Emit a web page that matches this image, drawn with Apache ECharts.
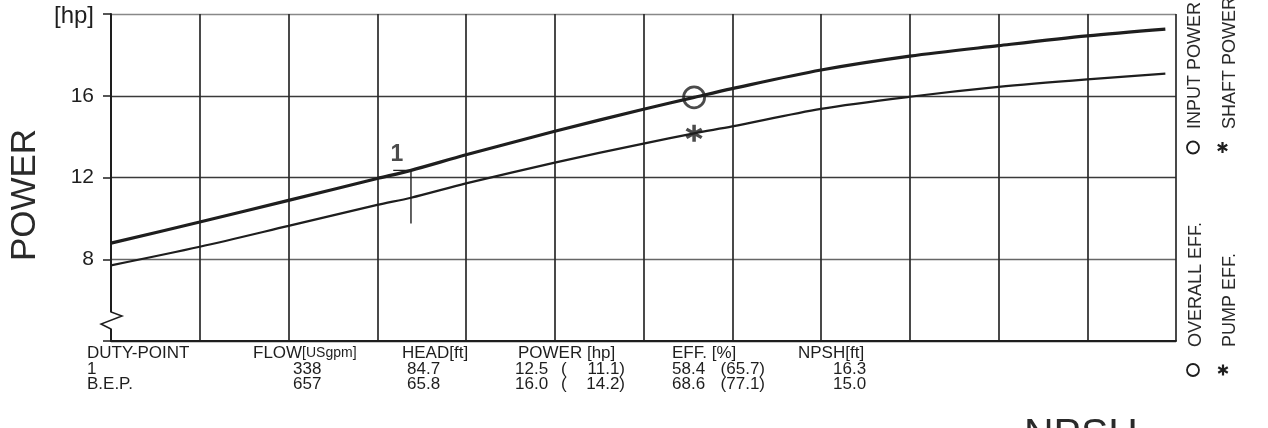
<!DOCTYPE html>
<html><head><meta charset="utf-8">
<script src="https://cdn.jsdelivr.net/npm/echarts@6/dist/echarts.min.js"></script>
<style>html,body{margin:0;padding:0;background:#fff}#c{width:1268px;height:428px}</style>
</head><body><div id="c"></div>
<script>
// ---- data ----
const flow        = [0, 100, 200, 300, 338, 400, 500, 600, 657, 700, 800, 900, 1000, 1100, 1188];
const inputPower  = [8.79, 9.82, 10.88, 11.95, 12.35, 13.11, 14.26, 15.34, 15.92, 16.35, 17.26, 17.94, 18.45, 18.93, 19.26];
const shaftPower  = [7.70, 8.61, 9.63, 10.66, 11.01, 11.71, 12.73, 13.66, 14.16, 14.50, 15.36, 15.95, 16.43, 16.80, 17.08];
const yTickValues = [4, 8, 12, 16, 20];
const yTickLabels = ['', '8', '12', '16', '[hp]'];
const dutyFlow = 338, dutyInput = 12.35, dutyDrop = 9.75, dutyTickStart = 318;
const dutyLabel = '1';
const bepFlow = 657, bepInput = 15.92, bepShaft = 14.16;
const tableHeaders = ['DUTY-POINT', 'FLOW', 'HEAD[ft]', 'POWER [hp]', 'EFF. [%]', 'NPSH[ft]'];
const flowUnit = '[USgpm]';
const rowNames = ['1', 'B.E.P.'];
const rowFlow  = ['338', '657'];
const rowHead  = ['84.7', '65.8'];
const rowPower = ['12.5', '16.0'];
const rowShaft = ['11.1)', '14.2)'];
const rowEff   = ['58.4', '68.6'];
const rowPumpEff = ['(65.7)', '(77.1)'];
const rowNpsh  = ['16.3', '15.0'];

const FONT = '"Liberation Sans", Arial, Helvetica, sans-serif';
const INK = '#1e1e1e';
const starPath = 'path://M-2,10L2,10L2,-10L-2,-10Z M7.66,6.73L9.66,3.27L-7.66,-6.73L-9.66,-3.27Z M-9.66,3.27L-7.66,6.73L9.66,-3.27L7.66,-6.73Z';

const chart = echarts.init(document.getElementById('c'), null, {renderer: 'canvas'});

function txt(x, y, text, size, align) {
  return {type: 'text', x: x, y: y, style: {text: text, font: size + 'px ' + FONT, fill: INK, textAlign: align || 'left', textVerticalAlign: 'middle'}};
}
function star(cx, cy, r) {
  const els = [];
  [90, 30, 150].forEach(a => {
    const t = a * Math.PI / 180;
    els.push({type: 'line', shape: {x1: cx - r * Math.cos(t), y1: cy - r * Math.sin(t), x2: cx + r * Math.cos(t), y2: cy + r * Math.sin(t)}, style: {stroke: INK, lineWidth: 2.2}});
  });
  return els;
}

const headerY = 353, r1Y = 369, r2Y = 384;
const rowYs = [r1Y, r2Y];
const TS = 17;
const graphics = [];
// y-axis title
graphics.push({type: 'text', x: 25.5, y: 195, rotation: Math.PI / 2, style: {text: 'POWER', font: '35px ' + FONT, fill: '#2a2a2a', textAlign: 'center', textVerticalAlign: 'middle'}});
// axis break mark
graphics.push({type: 'rect', shape: {x: 106, y: 312, width: 10, height: 17}, style: {fill: '#fff'}, z: 100});
graphics.push({type: 'polyline', shape: {points: [[111, 306], [111, 312], [122, 316], [101, 324], [111, 329], [111, 334]]}, style: {stroke: INK, lineWidth: 1.5, fill: null}, z: 101});
// table header
graphics.push(txt(87, headerY, tableHeaders[0], TS));
graphics.push({type: 'text', x: 253, y: headerY, style: {text: '{a|' + tableHeaders[1] + '}{b|' + flowUnit + '}', textVerticalAlign: 'middle', rich: {a: {font: TS + 'px ' + FONT, fill: INK}, b: {font: '14px ' + FONT, fill: INK}}}});
graphics.push(txt(402, headerY, tableHeaders[2], TS));
graphics.push(txt(518, headerY, tableHeaders[3], TS));
graphics.push(txt(672, headerY, tableHeaders[4], TS));
graphics.push(txt(798, headerY, tableHeaders[5], TS));
rowYs.forEach((y, i) => {
  graphics.push(txt(87, y, rowNames[i], TS));
  graphics.push(txt(293, y, rowFlow[i], TS));
  graphics.push(txt(407, y, rowHead[i], TS));
  graphics.push(txt(515, y, rowPower[i], TS));
  graphics.push(txt(561, y, '(', TS));
  graphics.push(txt(625, y, rowShaft[i], TS, 'right'));
  graphics.push(txt(672, y, rowEff[i], TS));
  graphics.push(txt(765, y, rowPumpEff[i], TS, 'right'));
  graphics.push(txt(833, y, rowNpsh[i], TS));
});
// right legends
function vtxt(x, y, text) {
  return {type: 'text', x: x, y: y, rotation: Math.PI / 2, style: {text: text, font: '18px ' + FONT, fill: '#2a2a2a', textAlign: 'left', textVerticalAlign: 'middle'}};
}
graphics.push(vtxt(1195, 129, 'INPUT POWER'));
graphics.push(vtxt(1230, 129, 'SHAFT POWER'));
graphics.push(vtxt(1196, 347, 'OVERALL EFF.'));
graphics.push(vtxt(1230, 347, 'PUMP EFF.'));
graphics.push({type: 'circle', shape: {cx: 1193, cy: 147.5, r: 6}, style: {fill: null, stroke: INK, lineWidth: 1.8}});
graphics.push({type: 'circle', shape: {cx: 1193, cy: 370, r: 6}, style: {fill: null, stroke: INK, lineWidth: 1.8}});
star(1222.5, 147.5, 5.5).forEach(e => graphics.push(e));
star(1223, 370, 5.5).forEach(e => graphics.push(e));
// NPSH (cut off at bottom)
graphics.push({type: 'text', x: 1024, y: 415, style: {text: 'NPSH', font: '41px ' + FONT, fill: '#2a2a2a', textAlign: 'left', textVerticalAlign: 'top'}});

const option = {
  animation: false,
  backgroundColor: '#fff',
  grid: {left: 111, right: 92, top: 14, bottom: 87, containLabel: false},
  xAxis: {
    type: 'value', min: 0, max: 1200, interval: 100,
    axisLine: {show: true, onZero: false, lineStyle: {color: INK, width: 2}},
    axisTick: {show: false}, axisLabel: {show: false},
    splitLine: {show: true, lineStyle: {color: '#2a2a2a', width: 1.7}}
  },
  yAxis: {
    type: 'value', min: yTickValues[0], max: yTickValues[yTickValues.length - 1], interval: 4,
    axisLine: {show: true, onZero: false, lineStyle: {color: INK, width: 2}},
    axisTick: {show: true, length: 8, lineStyle: {color: INK, width: 1.5}},
    axisLabel: {margin: 17, fontSize: 21, color: INK, fontFamily: FONT,
      rich: {hp: {fontSize: 24, fontFamily: FONT, color: INK, padding: [4, 0, 0, 0]}},
      formatter: v => { const i = yTickValues.indexOf(v); if (i < 0) return ''; return v === 20 ? '{hp|' + yTickLabels[i] + '}' : yTickLabels[i]; }},
    splitLine: {show: true, lineStyle: {color: ['#222', '#666', '#3a3a3a', '#3a3a3a', '#888'], width: 1.4}}
  },
  series: [
    {name: 'INPUT POWER', type: 'line', smooth: 0.3, showSymbol: false,
      data: flow.map((f, i) => [f, inputPower[i]]), lineStyle: {color: INK, width: 3.2}, z: 5},
    {name: 'SHAFT POWER', type: 'line', smooth: 0.3, showSymbol: false,
      data: flow.map((f, i) => [f, shaftPower[i]]), lineStyle: {color: INK, width: 2.2}, z: 5},
    {name: 'DUTY', type: 'line', showSymbol: false,
      data: [[dutyTickStart, dutyInput], [dutyFlow, dutyInput], [dutyFlow, dutyDrop]],
      lineStyle: {color: INK, width: 1.4}, z: 4},
    {name: 'DUTY LABEL', type: 'scatter', symbolSize: 0, data: [[dutyFlow, dutyInput]],
      label: {show: true, formatter: dutyLabel, position: 'inside', offset: [-14, -16], fontSize: 23, fontWeight: 'bold', color: INK, fontFamily: FONT}, z: 6},
    {name: 'BEP INPUT', type: 'scatter', symbol: 'circle', symbolSize: 21, data: [[bepFlow, bepInput]],
      itemStyle: {color: 'rgba(0,0,0,0)', borderColor: INK, borderWidth: 2.8}, z: 7},
    {name: 'BEP SHAFT', type: 'scatter', symbol: starPath, symbolSize: 17, data: [[bepFlow, bepShaft]],
      itemStyle: {color: INK}, z: 7}
  ],
  graphic: {elements: graphics}
};
chart.setOption(option);
</script>
</body></html>
